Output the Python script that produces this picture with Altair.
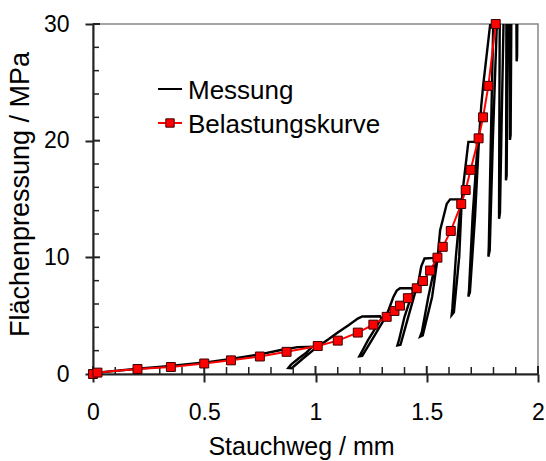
import altair as alt
import pandas as pd

# ---- data ----
# Belastungskurve (red, with squares)
bel_x = [0, 0.02, 0.2, 0.35, 0.5, 0.62, 0.75, 0.87, 1.01, 1.1, 1.19, 1.26, 1.32, 1.355,
         1.38, 1.415, 1.455, 1.483, 1.515, 1.548, 1.572, 1.608, 1.655, 1.675, 1.697,
         1.733, 1.753, 1.777, 1.81]
bel_y = [0, 0.12, 0.43, 0.6, 0.9, 1.17, 1.5, 1.9, 2.4, 2.86, 3.55, 4.23, 4.9, 5.4,
         5.86, 6.5, 7.35, 7.97, 8.87, 9.97, 10.9, 12.26, 14.57, 15.77, 17.5,
         20.2, 22.0, 24.7, 30.0]

# Messung (black, continuous with load/unload cycles)
mes_x = [0, 0.02, 0.2, 0.35, 0.5, 0.62, 0.75, 0.85, 0.92, 0.985,
         0.96, 0.925, 0.89, 0.878, 0.893, 0.945, 0.99, 1.016,
         1.06, 1.1, 1.15, 1.19, 1.21, 1.29,
         1.296, 1.236, 1.205, 1.197, 1.21, 1.253, 1.3, 1.32,
         1.35, 1.365, 1.38, 1.432,
         1.438, 1.4, 1.375, 1.368, 1.382, 1.417, 1.448, 1.46,
         1.475, 1.49, 1.535,
         1.54, 1.507, 1.478, 1.47, 1.482, 1.524, 1.548,
         1.56, 1.59, 1.605, 1.649,
         1.652, 1.631, 1.615, 1.612, 1.622, 1.646, 1.657,
         1.665, 1.687, 1.724,
         1.727, 1.706, 1.69, 1.687, 1.694, 1.717, 1.735,
         1.745, 1.754, 1.784, 1.795, 1.80,
         1.799, 1.788, 1.779, 1.777, 1.783, 1.797, 1.815, 1.822,
         1.828, 1.826, 1.825, 1.825, 1.829, 1.835, 1.845, 1.85,
         1.858, 1.857, 1.856, 1.859, 1.862, 1.866, 1.87,
         1.875, 1.874, 1.877, 1.88, 1.885,
         1.9, 1.903, 1.904, 1.906, 1.907, 1.91]
mes_y = [0, 0.12, 0.45, 0.68, 0.98, 1.3, 1.68, 2.08, 2.3, 2.34,
         1.85, 1.35, 0.8, 0.52, 0.5, 1.35, 2.05, 2.43,
         3.0, 3.55, 4.2, 4.75, 4.93, 4.95,
         4.75, 2.9, 1.8, 1.52, 1.55, 2.9, 4.4, 5.06,
         6.6, 7.15, 7.35, 7.36,
         7.1, 4.9, 2.9, 2.45, 2.5, 4.9, 7.0, 7.6,
         9.2, 9.9, 9.95,
         9.6, 6.6, 3.6, 3.2, 3.3, 6.6, 9.8,
         12.3, 14.6, 14.97, 14.97,
         14.5, 10.06, 5.6, 5.06, 5.3, 10.06, 14.77,
         16.3, 19.9, 19.9,
         19.3, 13.5, 7.2, 6.63, 7.0, 13.5, 20.2,
         23.0, 24.8, 29.8, 31.5, 32.0,
         30.0, 20.0, 11.0, 10.06, 10.6, 20.0, 30.0, 32.0,
         30.0, 20.0, 14.0, 13.3, 13.8, 20.0, 30.0, 32.0,
         30.0, 20.0, 16.6, 17.0, 24.0, 30.0, 32.0,
         30.0, 20.06, 20.5, 30.0, 32.0,
         32.0, 30.0, 26.8, 27.2, 30.0, 32.0]

x_major = [0, 0.5, 1, 1.5, 2]
x_minor = [0.1, 0.2, 0.3, 0.4, 0.6, 0.7, 0.8, 0.9, 1.1, 1.2, 1.3, 1.4,
           1.6, 1.7, 1.8, 1.9]
y_major = [0, 10, 20, 30]
y_minor = [2, 4, 6, 8, 12, 14, 16, 18, 22, 24, 26, 28]

legend_labels = ["Messung", "Belastungskurve"]
x_title = "Stauchweg / mm"
y_title = "Flächenpressung / MPa"

FONT = "Liberation Sans"
W, H = 445, 350

mes = pd.DataFrame({"x": mes_x, "y": mes_y, "i": list(range(len(mes_x)))})
bel = pd.DataFrame({"x": bel_x, "y": bel_y, "i": list(range(len(bel_x)))})

xs = alt.Scale(domain=[0, 2], nice=False, zero=False)
ys = alt.Scale(domain=[0, 30], nice=False, zero=False)

x_axis = alt.Axis(values=x_major, format="~g", title=x_title, grid=False,
                  labelFont=FONT, labelFontSize=23, labelColor="black",
                  titleFont=FONT, titleFontSize=25, titleFontWeight="normal",
                  titleColor="black", tickSize=8, tickWidth=2, tickColor="#222",
                  domainColor="#222", domainWidth=2, labelPadding=19,
                  titlePadding=10, titleX=208, labelFlush=False, labelOverlap=False)
y_axis = alt.Axis(values=y_major, format="~g", title=y_title, grid=False,
                  labelFont=FONT, labelFontSize=23, labelColor="black",
                  titleFont=FONT, titleFontSize=27, titleFontWeight="normal",
                  titleColor="black", tickSize=8, tickWidth=2, tickColor="#222",
                  domainColor="#222", domainWidth=2, labelPadding=16,
                  titlePadding=9, titleY=170, labelFlush=False, labelOverlap=False)

black = alt.Chart(mes).mark_line(color="black", strokeWidth=2.4, clip=True).encode(
    x=alt.X("x:Q", scale=xs, axis=x_axis),
    y=alt.Y("y:Q", scale=ys, axis=y_axis),
    order="i:Q",
)

red_line = alt.Chart(bel).mark_line(color="#ff0000", strokeWidth=2, clip=True).encode(
    x=alt.X("x:Q", scale=xs), y=alt.Y("y:Q", scale=ys), order="i:Q")
red_pts = alt.Chart(bel).mark_point(shape="square", filled=True, size=80,
                                    color="#ff0000", stroke="#3a0000",
                                    strokeWidth=1, opacity=1).encode(
    x=alt.X("x:Q", scale=xs), y=alt.Y("y:Q", scale=ys))

# inward ticks
xt_minor = alt.Chart(pd.DataFrame({"v": x_minor})).mark_rule(color="#222", strokeWidth=1.5).encode(
    x=alt.X("v:Q", scale=xs), y=alt.value(H), y2=alt.value(H - 7))
xt_major = alt.Chart(pd.DataFrame({"v": x_major})).mark_rule(color="#222", strokeWidth=2).encode(
    x=alt.X("v:Q", scale=xs), y=alt.value(H), y2=alt.value(H - 8))
yt_minor = alt.Chart(pd.DataFrame({"v": y_minor})).mark_rule(color="#222", strokeWidth=1.5).encode(
    y=alt.Y("v:Q", scale=ys), x=alt.value(0), x2=alt.value(6))
yt_major = alt.Chart(pd.DataFrame({"v": y_major})).mark_rule(color="#222", strokeWidth=2).encode(
    y=alt.Y("v:Q", scale=ys), x=alt.value(0), x2=alt.value(7))

# legend
lg1 = pd.DataFrame({"label": [legend_labels[0]]})
lg2 = pd.DataFrame({"label": [legend_labels[1]]})
leg_line1 = alt.Chart(lg1).mark_rule(color="black", strokeWidth=2).encode(
    x=alt.value(65), x2=alt.value(89), y=alt.value(65))
leg_text1 = alt.Chart(lg1).mark_text(align="left", baseline="middle", font=FONT,
                                     fontSize=26, color="black").encode(
    x=alt.value(95), y=alt.value(67), text="label:N")
leg_line2 = alt.Chart(lg2).mark_rule(color="#ff0000", strokeWidth=2).encode(
    x=alt.value(65), x2=alt.value(89), y=alt.value(99))
leg_pt2 = alt.Chart(lg2).mark_point(shape="square", filled=True, size=70,
                                    color="#ff0000", stroke="#3a0000",
                                    strokeWidth=1, opacity=1).encode(
    x=alt.value(77), y=alt.value(99))
leg_text2 = alt.Chart(lg2).mark_text(align="left", baseline="middle", font=FONT,
                                     fontSize=26, color="black").encode(
    x=alt.value(95), y=alt.value(101), text="label:N")

chart = alt.layer(
    black, xt_minor, xt_major, yt_minor, yt_major, red_line, red_pts,
    leg_line1, leg_text1, leg_line2, leg_pt2, leg_text2,
).properties(
    width=W, height=H,
    autosize=alt.AutoSizeParams(type="none"),
    padding={"left": 93, "top": 24, "right": 8, "bottom": 87},
    background="white",
).configure_view(stroke="#888", strokeWidth=1.5)

chart.save("out.html", embed_options={"renderer": "svg", "actions": False})
